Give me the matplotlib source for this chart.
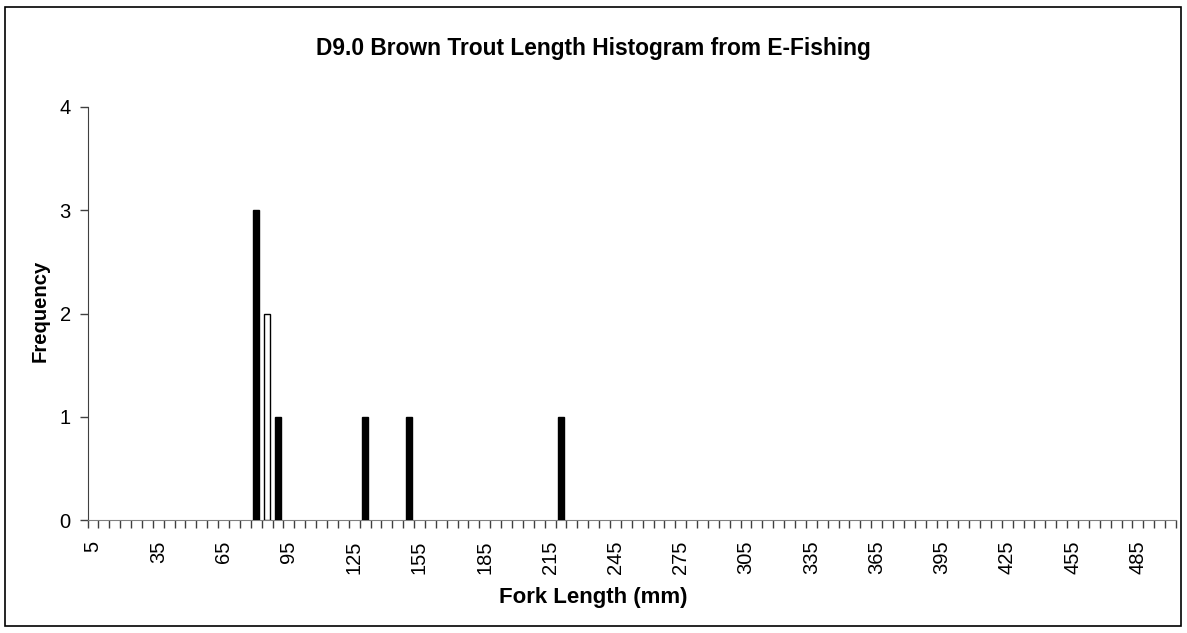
import numpy as np
import matplotlib
matplotlib.use('Agg')
import matplotlib.pyplot as plt
from matplotlib.patches import Rectangle

# length bins (mm) on the category axis, 5 .. 500
bins = list(range(5, 505, 5))
# bins that have fish in them and how many
lengths = [80, 85, 90, 130, 150, 220]
counts = [3, 2, 1, 1, 1, 1]
fills = ['black', 'white', 'black', 'black', 'black', 'black']

plt.rcParams['font.family'] = ['Liberation Sans', 'DejaVu Sans']

W, H = 1187, 633
fig = plt.figure(figsize=(W / 100, H / 100), dpi=100)
ax = fig.add_axes([87.5 / W, 1 - 520 / H, (1176 - 87.5) / W, 413 / H])

idx = [bins.index(v) for v in lengths]
ax.bar(idx, counts, width=0.55, color=fills, edgecolor='black', linewidth=1.0, zorder=3)

ax.set_xlim(-0.5, len(bins) - 0.5)
ax.set_ylim(0, 4)
ax.set_yticks(range(0, 5))

lab_idx = list(range(0, len(bins), 6))
ax.set_xticks(lab_idx)
ax.set_xticklabels([str(bins[i]) for i in lab_idx], rotation=90)
ax.set_xticks(np.arange(-0.5, len(bins), 1), minor=True)
ax.tick_params(axis='x', which='major', length=0, pad=15, labelsize=14.5)
ax.tick_params(axis='x', which='minor', length=6, width=1, color='#404040')
ax.tick_params(axis='y', length=6, width=1, color='#404040', labelsize=14.5, pad=6)

for s in ['top', 'right']:
    ax.spines[s].set_visible(False)
ax.spines['left'].set_color('#404040')
ax.spines['bottom'].set_color('#808080')

# titles are centred on the whole chart, not on the plot area
fig.text(0.5, 1 - 48 / H, 'D9.0 Brown Trout Length Histogram from E-Fishing',
         fontsize=16.4, fontweight='bold', ha='center', va='center')
fig.text(0.5, 1 - 598 / H, 'Fork Length (mm)',
         fontsize=16, fontweight='bold', ha='center', va='center')
fig.text(40 / W, 1 - 311 / H, 'Frequency', rotation=90,
         fontsize=14.6, fontweight='bold', ha='center', va='center')

fig.patches.append(Rectangle((5 / W, 1 - 626 / H), 1176 / W, 619 / H,
                             transform=fig.transFigure, fill=False,
                             edgecolor='black', linewidth=1.2))

fig.savefig('out.png', dpi=100)
